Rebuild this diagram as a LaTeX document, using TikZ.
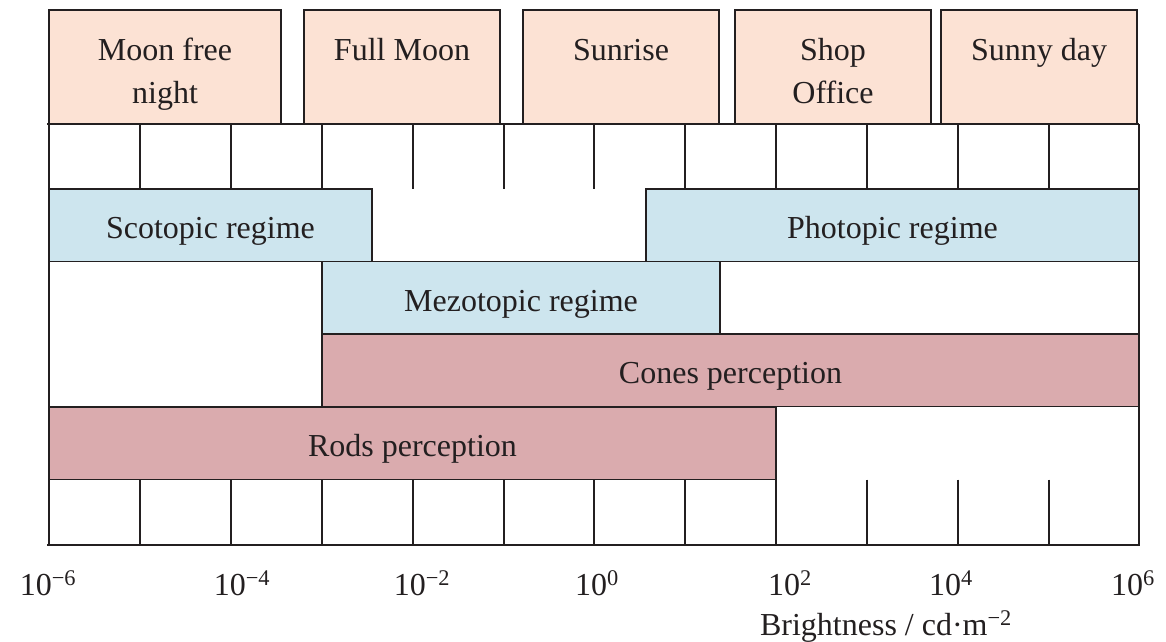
\documentclass[tikz,border=0pt]{standalone}
\usepackage{fontspec}
\setmainfont{Liberation Serif}
\definecolor{ink}{HTML}{231F20}
\definecolor{peach}{HTML}{FCE2D4}
\definecolor{sky}{HTML}{CDE5EE}
\definecolor{rose}{HTML}{DAABAE}
\begin{document}
\begin{tikzpicture}[x=1pt,y=-1pt,
  every node/.style={font=\fontsize{32}{43}\selectfont, text=ink, inner sep=0pt},
  topbox/.style={draw=ink, fill=peach, line width=1.4pt, outer sep=0pt, anchor=north west, minimum height=114pt},
  toptext/.style={anchor=base},
  bar/.style={draw=ink, line width=1.5pt, outer sep=0pt, anchor=north west, minimum height=72.5pt, text height=27pt, text depth=0pt},
  bluebar/.style={bar, fill=sky},
  pinkbar/.style={bar, fill=rose},
  frame/.style={draw=ink, line width=1.8pt},
  ticklab/.style={anchor=base}]
\useasboundingbox (0,0) rectangle (1166,641);

% situation boxes
\node[topbox, minimum width=232pt] (b1) at (49,10) {};
\node[topbox, minimum width=196pt] (b2) at (304,10) {};
\node[topbox, minimum width=196pt] (b3) at (523,10) {};
\node[topbox, minimum width=196pt] (b4) at (735,10) {};
\node[topbox, minimum width=196pt] (b5) at (941,10) {};
\node[toptext] (t1) at (b1.north |- 0,60) {\begin{tabular}[t]{@{}c@{}}Moon free\\night\end{tabular}};
\node[toptext] (t2) at (b2.north |- 0,60) {Full Moon};
\node[toptext] (t3) at (b3.north |- 0,60) {Sunrise};
\node[toptext] (t4) at (b4.north |- 0,60) {\begin{tabular}[t]{@{}c@{}}Shop\\Office\end{tabular}};
\node[toptext] (t5) at (b5.north |- 0,60) {Sunny day};

% regime and perception bars
\node[bluebar, minimum width=323pt] (scot) at (49,189) {Scotopic regime};
\node[bluebar, minimum width=493pt] (phot) at (646,189) {Photopic regime};
\node[bluebar, minimum width=398pt] (mezo) at (322,261.5) {Mezotopic regime};
\node[pinkbar, minimum width=817pt] (cone) at (322,334) {Cones perception};
\node[pinkbar, minimum width=727pt] (rods) at (49,407) {Rods perception};

% frame and ticks
\draw[frame] (47,124) -- (1139,124);
\draw[frame] (49,124) -- (49,545);
\draw[frame] (1139,124) -- (1139,545);
\draw[frame] (47,545) -- (1139.9,545);
\foreach \xx in {140,231,322,413,504,594,685,776,867,958,1049} {
  \draw[frame] (\xx,124) -- (\xx,189);
  \draw[frame] (\xx,479.5) -- (\xx,545);
}

% axis labels
\node[ticklab] (l1) at (48,595) {10\textsuperscript{−6}};
\node[ticklab] (l2) at (242,595) {10\textsuperscript{−4}};
\node[ticklab] (l3) at (422,595) {10\textsuperscript{−2}};
\node[ticklab] (l4) at (597,595) {10\textsuperscript{0}};
\node[ticklab] (l5) at (790,595) {10\textsuperscript{2}};
\node[ticklab] (l6) at (951,595) {10\textsuperscript{4}};
\node[ticklab] (l7) at (1133,595) {10\textsuperscript{6}};
\node[ticklab] (ax) at (886,635) {Brightness / cd·m\textsuperscript{−2}};
\end{tikzpicture}
\end{document}
